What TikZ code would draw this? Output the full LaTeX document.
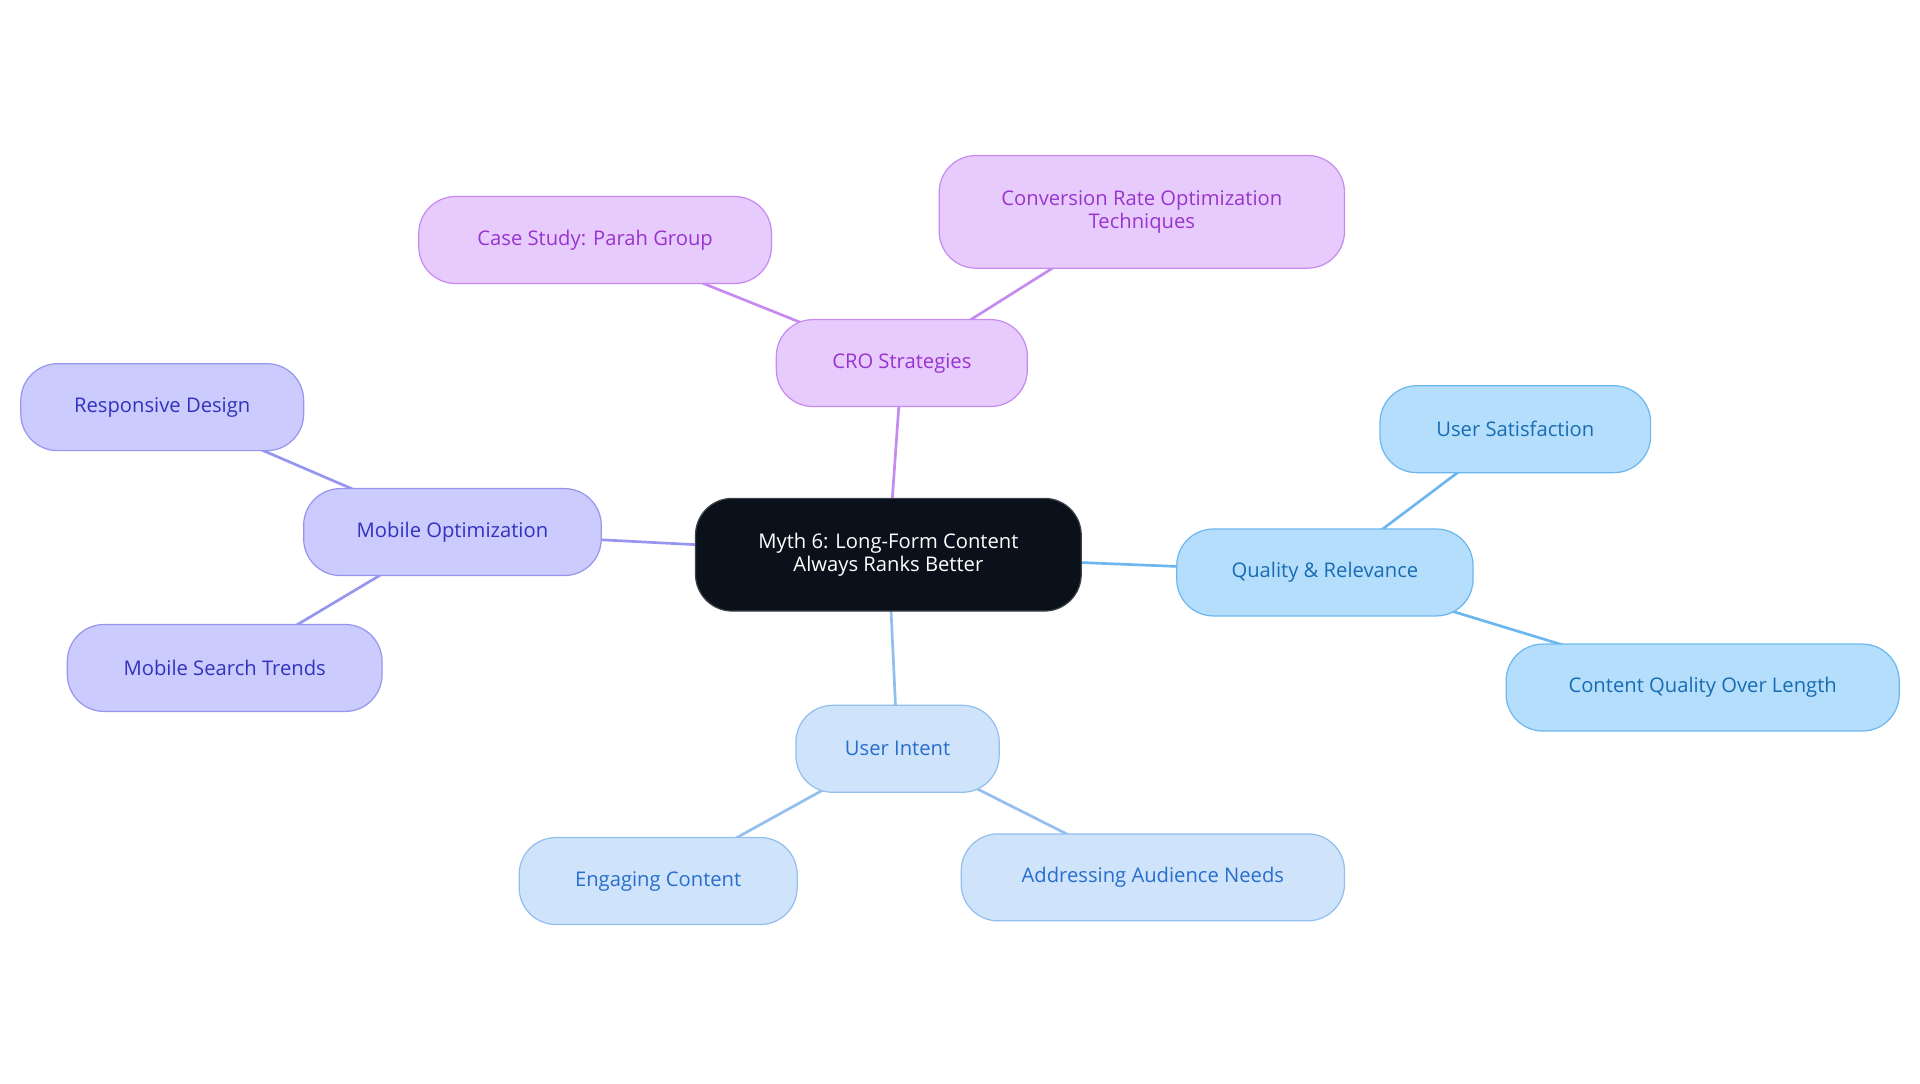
\documentclass[tikz,border=0pt]{standalone}
\usepackage{fontspec}
\setmainfont{Open Sans}
\usetikzlibrary{backgrounds}
\definecolor{pf}{RGB}{232,203,253}\definecolor{pd}{RGB}{198,139,240}\definecolor{pt}{RGB}{152,52,206}
\definecolor{vf}{RGB}{203,203,253}\definecolor{vd}{RGB}{150,150,240}\definecolor{vt}{RGB}{50,50,190}
\definecolor{sf}{RGB}{181,222,253}\definecolor{sd}{RGB}{108,184,238}\definecolor{st}{RGB}{24,108,178}
\definecolor{bf}{RGB}{207,227,251}\definecolor{bd}{RGB}{146,191,238}\definecolor{bt}{RGB}{40,110,205}
\definecolor{cf}{RGB}{11,17,26}\definecolor{cd}{RGB}{60,66,74}
\begin{document}
\begin{tikzpicture}[x=1pt,y=-1pt,
 base/.style={rounded corners=30pt,line width=1pt,align=center,inner sep=0pt,minimum height=71pt,font=\fontsize{16.5}{19}\selectfont},
 pur/.style={base,fill=pf,draw=pd,text=pt},
 vio/.style={base,fill=vf,draw=vd,text=vt},
 sky/.style={base,fill=sf,draw=sd,text=st},
 blu/.style={base,fill=bf,draw=bd,text=bt},
 e/.style={line width=2.2pt}]
\useasboundingbox (0,0) rectangle (1568,884.5);
\node[base,fill=cf,draw=cd,text=white,minimum width=315pt,minimum height=92pt] (c) at (725.5,453) {Myth 6: Long-Form Content\\Always Ranks Better};
\node[pur,minimum width=205pt] (cro) at (736.5,296.5) {CRO Strategies};
\node[pur,minimum width=288pt] (cs) at (486,196) {Case Study: Parah Group};
\node[pur,minimum width=331pt,minimum height=92pt] (cr) at (932.5,173) {Conversion Rate Optimization\\Techniques};
\node[vio,minimum width=243pt] (mo) at (369.5,434.5) {Mobile Optimization};
\node[vio,minimum width=231pt] (rd) at (132.5,332.5) {Responsive Design};
\node[vio,minimum width=257pt] (ms) at (183.5,545.5) {Mobile Search Trends};
\node[sky,minimum width=242pt] (qr) at (1082,467.5) {Quality \& Relevance};
\node[sky,minimum width=221pt] (us) at (1237.5,350.5) {User Satisfaction};
\node[sky,minimum width=321pt] (cq) at (1390.5,561.5) {Content Quality Over Length};
\node[blu,minimum width=166pt] (ui) at (733,611.5) {User Intent};
\node[blu,minimum width=227pt] (ec) at (537.5,719.5) {Engaging Content};
\node[blu,minimum width=313pt] (an) at (941.5,716.5) {Addressing Audience Needs};
\begin{scope}[on background layer]
\draw[e,pd] (c.center) -- (cro.center) (cro.center) -- (cs.center) (cro.center) -- (cr.center);
\draw[e,vd] (c.center) -- (mo.center) (mo.center) -- (rd.center) (mo.center) -- (ms.center);
\draw[e,sd] (c.center) -- (qr.center) (qr.center) -- (us.center) (qr.center) -- (cq.center);
\draw[e,bd] (c.center) -- (ui.center) (ui.center) -- (ec.center) (ui.center) -- (an.center);
\end{scope}
\end{tikzpicture}
\end{document}
